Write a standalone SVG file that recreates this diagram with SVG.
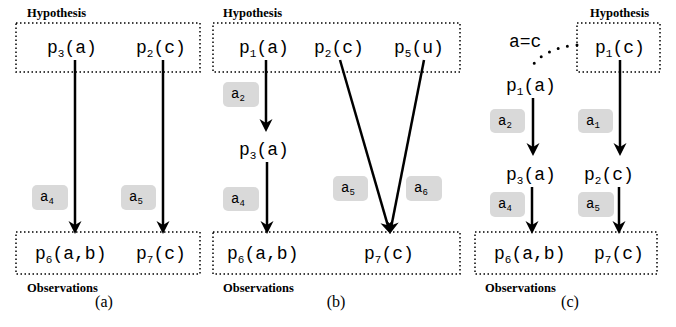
<svg xmlns="http://www.w3.org/2000/svg" width="676" height="327" viewBox="0 0 676 327">
<defs>
<style>
.box{fill:none;stroke:#000;stroke-width:1.5;stroke-dasharray:1.5 2.5}
.t{font-family:"Liberation Mono","Courier New",monospace;font-size:18px;fill:#000}
.sub{font-size:11px}
.hd{font-family:"Liberation Serif","Times New Roman",serif;font-weight:bold;font-size:12.5px;fill:#000}
.cap{font-family:"Liberation Serif","Times New Roman",serif;font-size:16px;fill:#000}
.lbl{fill:#d9d9d9;stroke:none}
.lt{font-family:"Liberation Mono","Courier New",monospace;font-size:14px;fill:#000}
.ls{font-size:9px}
.e{stroke:#000;stroke-width:2.5;fill:none;marker-end:url(#ah)}
</style>
<marker id="ah" markerUnits="userSpaceOnUse" viewBox="-10 -8 16 16" refX="0" refY="0" markerWidth="16" markerHeight="16" orient="auto" overflow="visible">
<path d="M5,0 L-8,-6.5 L-4,0 L-8,6.5 z" fill="#000"/>
</marker>
</defs>

<!-- Panel (a) -->
<g id="a-hyp">
<text class="hd" x="27" y="16.5">Hypothesis</text>
<rect class="box" x="16" y="23" width="184" height="49"/>
<text class="t" x="47" y="53">p<tspan class="sub" dy="4">3</tspan><tspan dy="-4">(a)</tspan></text>
<text class="t" x="136" y="53">p<tspan class="sub" dy="4">2</tspan><tspan dy="-4">(c)</tspan></text>
</g>
<g id="a-obs">
<rect class="box" x="16" y="232" width="184" height="42"/>
<text class="t" x="35" y="259">p<tspan class="sub" dy="4">6</tspan><tspan dy="-4">(a,b)</tspan></text>
<text class="t" x="136" y="259">p<tspan class="sub" dy="4">7</tspan><tspan dy="-4">(c)</tspan></text>
<text class="hd" x="27" y="292">Observations</text>
</g>
<g id="a-l4"><rect class="lbl" x="32" y="185" width="36" height="25" rx="5"/><text class="lt" x="40" y="201">a<tspan class="ls" dy="3">4</tspan></text></g>
<g id="a-l5"><rect class="lbl" x="121" y="185" width="35" height="25" rx="5"/><text class="lt" x="129" y="201">a<tspan class="ls" dy="3">5</tspan></text></g>
<text class="cap" x="104" y="307" text-anchor="middle">(a)</text>

<!-- Panel (b) -->
<g id="b-hyp">
<text class="hd" x="223" y="16.5">Hypothesis</text>
<rect class="box" x="213" y="23" width="247" height="49"/>
<text class="t" x="239" y="53">p<tspan class="sub" dy="4">1</tspan><tspan dy="-4">(a)</tspan></text>
<text class="t" x="314" y="53">p<tspan class="sub" dy="4">2</tspan><tspan dy="-4">(c)</tspan></text>
<text class="t" x="394" y="53">p<tspan class="sub" dy="4">5</tspan><tspan dy="-4">(u)</tspan></text>
</g>
<g id="b-p3"><text class="t" x="239" y="155">p<tspan class="sub" dy="4">3</tspan><tspan dy="-4">(a)</tspan></text></g>
<g id="b-obs">
<rect class="box" x="213" y="232" width="247" height="42"/>
<text class="t" x="227" y="259">p<tspan class="sub" dy="4">6</tspan><tspan dy="-4">(a,b)</tspan></text>
<text class="t" x="364" y="259">p<tspan class="sub" dy="4">7</tspan><tspan dy="-4">(c)</tspan></text>
<text class="hd" x="223" y="292">Observations</text>
</g>
<g id="b-l2"><rect class="lbl" x="223" y="82" width="36" height="25" rx="5"/><text class="lt" x="231" y="98">a<tspan class="ls" dy="3">2</tspan></text></g>
<g id="b-l4"><rect class="lbl" x="223" y="187" width="36" height="24" rx="5"/><text class="lt" x="231" y="203">a<tspan class="ls" dy="3">4</tspan></text></g>
<g id="b-l5"><rect class="lbl" x="333" y="176" width="35" height="25" rx="5"/><text class="lt" x="341" y="192">a<tspan class="ls" dy="3">5</tspan></text></g>
<g id="b-l6"><rect class="lbl" x="406" y="176" width="36" height="25" rx="5"/><text class="lt" x="414" y="192">a<tspan class="ls" dy="3">6</tspan></text></g>
<text class="cap" x="336" y="307" text-anchor="middle">(b)</text>

<!-- Panel (c) -->
<g id="c-hyp">
<text class="hd" x="590" y="16.5">Hypothesis</text>
<rect class="box" x="577" y="23" width="83" height="49"/>
<text class="t" x="595" y="53">p<tspan class="sub" dy="4">1</tspan><tspan dy="-4">(c)</tspan></text>
</g>
<g id="c-eq"><text class="t" x="509" y="47">a=c</text></g>
<g id="c-p1a"><text class="t" x="506" y="91">p<tspan class="sub" dy="4">1</tspan><tspan dy="-4">(a)</tspan></text></g>
<g id="c-p3a"><text class="t" x="506" y="180">p<tspan class="sub" dy="4">3</tspan><tspan dy="-4">(a)</tspan></text></g>
<g id="c-p2c"><text class="t" x="584" y="180">p<tspan class="sub" dy="4">2</tspan><tspan dy="-4">(c)</tspan></text></g>
<g id="c-obs">
<rect class="box" x="475" y="232" width="182" height="42"/>
<text class="t" x="494" y="259">p<tspan class="sub" dy="4">6</tspan><tspan dy="-4">(a,b)</tspan></text>
<text class="t" x="594" y="259">p<tspan class="sub" dy="4">7</tspan><tspan dy="-4">(c)</tspan></text>
<text class="hd" x="485" y="292">Observations</text>
</g>
<g id="c-l2"><rect class="lbl" x="490" y="109" width="35" height="24" rx="5"/><text class="lt" x="498" y="125">a<tspan class="ls" dy="3">2</tspan></text></g>
<g id="c-l1"><rect class="lbl" x="578" y="109" width="35" height="24" rx="5"/><text class="lt" x="586" y="125">a<tspan class="ls" dy="3">1</tspan></text></g>
<g id="c-l4"><rect class="lbl" x="490" y="192" width="35" height="25" rx="5"/><text class="lt" x="498" y="208">a<tspan class="ls" dy="3">4</tspan></text></g>
<g id="c-l5"><rect class="lbl" x="578" y="192" width="36" height="25" rx="5"/><text class="lt" x="586" y="208">a<tspan class="ls" dy="3">5</tspan></text></g>
<text class="cap" x="570" y="307" text-anchor="middle">(c)</text>

<!-- Connectors -->
<g id="connectors">
<line class="e" x1="75" y1="60" x2="75" y2="229"/>
<line class="e" x1="163" y1="60" x2="163" y2="229"/>
<line class="e" x1="266" y1="60" x2="266" y2="127"/>
<line class="e" x1="267" y1="162" x2="267" y2="229"/>
<line class="e" x1="340" y1="60" x2="388.9" y2="229.2"/>
<line class="e" x1="424" y1="60" x2="390.8" y2="229.1"/>
<line class="e" x1="533" y1="98" x2="533" y2="151"/>
<line class="e" x1="620" y1="60" x2="620" y2="151"/>
<line class="e" x1="532" y1="187" x2="532" y2="229"/>
<line class="e" x1="619" y1="187" x2="619" y2="229"/>
<path d="M577,45 Q545,48 532,66" fill="none" stroke="#000" stroke-width="3" stroke-linecap="round" stroke-dasharray="0 9.5"/>
</g>
</svg>
